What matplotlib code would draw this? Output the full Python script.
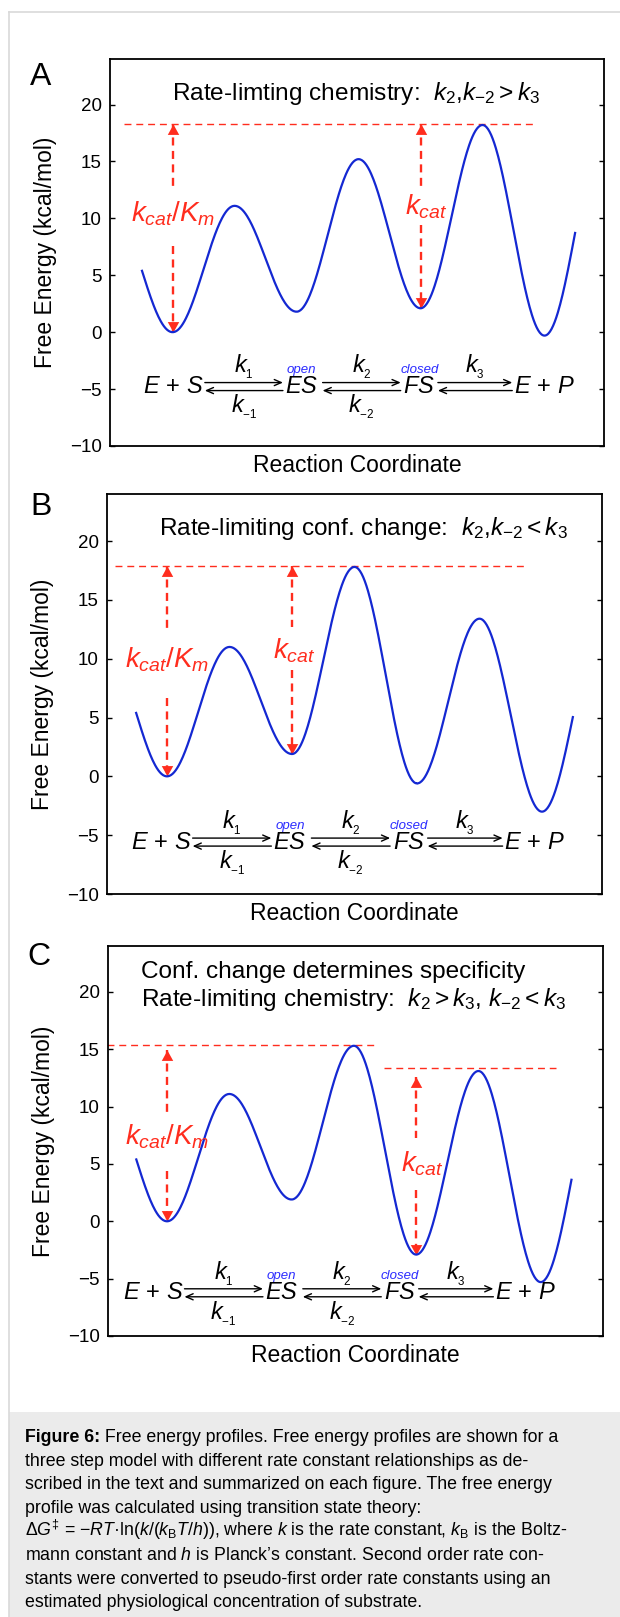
import numpy as np
import matplotlib
matplotlib.use("Agg")
import matplotlib.pyplot as plt
from matplotlib.lines import Line2D
from matplotlib.patches import Rectangle
from matplotlib.transforms import offset_copy

plt.rcParams['font.family'] = ['Liberation Sans', 'DejaVu Sans']
plt.rcParams['mathtext.fontset'] = 'custom'
plt.rcParams['mathtext.rm'] = 'Liberation Sans'
plt.rcParams['mathtext.it'] = 'Liberation Sans:italic'
plt.rcParams['mathtext.bf'] = 'Liberation Sans:bold'

W, H = 620, 1617
BLUE = '#1428d2'
RED = '#ff2d1e'

# free energy profile of each panel (kcal/mol)
panel_names = ['A', 'B', 'C']
well_x = [1, 2, 3, 4]
start_energy = [5.5, 5.5, 5.5]
well_energy = [[0.0, 1.8, 2.1, -0.3], [0.0, 1.9, -0.6, -3.0], [0.0, 1.9, -2.9, -5.3]]
barrier_energy = [[11.1, 15.2, 18.2], [11.0, 17.8, 13.4], [11.1, 15.3, 13.1]]
end_energy = [8.9, 5.2, 3.8]

titles = [
    [r"Rate-limting chemistry:  $k_2{,}k_{-2} > k_3$"],
    [r"Rate-limiting conf. change:  $k_2{,}k_{-2} < k_3$"],
    ["Conf. change determines specificity",
     r"Rate-limiting chemistry:  $k_2 > k_3{,}\ k_{-2} < k_3$"],
]

# red dashed reference levels and arrows
level_y = [[18.3], [17.9], [15.4, 13.4]]
level_x0 = [[0.61], [0.58], [0.52, 2.74]]
level_x1 = [[3.92], [3.86], [2.68, 4.12]]
arrow_x = [[1, 3], [1, 2], [1, 3]]
arrow_top = [[18.3, 18.3], [17.9, 17.9], [14.9, 12.6]]
arrow_bottom = [[0.0, 2.1], [0.0, 1.9], [0.0, -2.9]]
gap_hi = [[12.6, 12.6], [12.3, 12.7], [9.2, 7.3]]
gap_lo = [[7.6, 9.4], [6.7, 9.0], [4.4, 2.7]]
arrow_label = [[r"$k_{cat}/K_m$", r"$k_{cat}$"]] * 3
label_x = [[1.0, 3.05], [1.0, 2.02], [1.0, 3.05]]
label_y = [[10.4, 11.0], [9.9, 10.7], [7.4, 5.0]]

# kinetic scheme
species = [r"$E\,+\,S$", r"$ES$", r"$FS$", r"$E\,+\,P$"]
species_dx = [0.0, 1.03, 1.98, 2.99]
fwd_labels = [r"$k_{_1}$", r"$k_{_2}$", r"$k_{_3}$"]
rev_labels = [r"$k_{_{-1}}$", r"$k_{_{-2}}$", None]
arrow_x0 = [0.25, 1.20, 2.13]
arrow_x1 = [0.88, 1.83, 2.73]
state_tags = [None, "open", "closed", None]
scheme_x = [1.01, 0.955, 0.89]
scheme_base = [-5.35, -6.14, -6.8]

axes_px = [(110, 59, 604, 446), (107, 494, 602, 894), (108, 946, 603, 1336)]
xlims = [(0.495, 4.48), (0.52, 4.48), (0.526, 4.50)]
letter_px = [(41, 77), (41, 507), (39, 957)]


def profile(start, wells, barriers, end, n=80):
    ext_x = [well_x[0] - 0.5]
    ext_e = [2 * start - wells[0]]
    for i, w in enumerate(wells):
        ext_x.append(well_x[i])
        ext_e.append(w)
        if i < len(barriers):
            ext_x.append(well_x[i] + 0.5)
            ext_e.append(barriers[i])
    ext_x.append(well_x[-1] + 0.5)
    ext_e.append(2 * end - wells[-1])
    xs, es = [], []
    t = np.linspace(0, 1, n)
    for i in range(len(ext_x) - 1):
        xs.append(ext_x[i] + (ext_x[i + 1] - ext_x[i]) * t)
        es.append(ext_e[i] + (ext_e[i + 1] - ext_e[i]) * (1 - np.cos(np.pi * t)) / 2)
    x = np.concatenate(xs)
    e = np.concatenate(es)
    keep = (x >= well_x[0] - 0.25) & (x <= well_x[-1] + 0.25)
    return x[keep], e[keep]


up_head = [(0, 0), (-0.55, -1), (0.55, -1), (0, 0)]
down_head = [(0, 0), (-0.55, 1), (0.55, 1), (0, 0)]

fig = plt.figure(figsize=(W / 100, H / 100), dpi=100)

# page frame and caption box
fig.add_artist(Line2D([9 / W, 1], [1 - 12 / H, 1 - 12 / H], color='#d9d9d9', lw=1.2))
fig.add_artist(Line2D([9 / W, 9 / W], [1 - 12 / H, 0], color='#d9d9d9', lw=1.2))
fig.add_artist(Rectangle((9 / W, 0), 1, (H - 1412) / H, transform=fig.transFigure,
                         facecolor='#ebebeb', edgecolor='none'))

for p in range(3):
    l, t, r, b = axes_px[p]
    ax = fig.add_axes([l / W, 1 - b / H, (r - l) / W, (b - t) / H])
    x, e = profile(start_energy[p], well_energy[p], barrier_energy[p], end_energy[p])
    ax.plot(x, e, color=BLUE, lw=1.6, zorder=3)
    ax.set_xlim(*xlims[p])
    ax.set_ylim(-10, 24)
    ax.set_yticks([-10, -5, 0, 5, 10, 15, 20])
    ax.set_xticks([])
    ax.tick_params(axis='y', direction='in', length=3.5, width=1, labelsize=13.5,
                   right=True, pad=6)
    for s in ax.spines.values():
        s.set_linewidth(1.3)
    ax.set_ylabel("Free Energy (kcal/mol)", fontsize=16.5, labelpad=9)
    ax.set_xlabel("Reaction Coordinate", fontsize=16.5, labelpad=6)
    fig.text(letter_px[p][0] / W, 1 - letter_px[p][1] / H, panel_names[p], fontsize=23,
             ha='center', va='center')

    # titles
    if p < 2:
        ax.text([2.48, 2.57][p], [20.96, 21.1][p], titles[p][0], fontsize=17.6,
                ha='center', va='center')
    else:
        ax.text(0.79, 21.7, titles[p][0], fontsize=17.6, ha='left', va='center')
        ax.text(0.79, 19.3, titles[p][1], fontsize=17.6, ha='left', va='center')

    # reference levels
    for y, x0, x1 in zip(level_y[p], level_x0[p], level_x1[p]):
        ax.plot([x0, x1], [y, y], color=RED, lw=1.0, dashes=(5, 3.5))
    for i in range(len(arrow_x[p])):
        xa = arrow_x[p][i]
        ax.plot([xa, xa], [arrow_top[p][i], gap_hi[p][i]], color=RED, lw=1.7, dashes=(3.4, 2.3))
        ax.plot([xa, xa], [gap_lo[p][i], arrow_bottom[p][i]], color=RED, lw=1.7, dashes=(3.4, 2.3))
        ax.plot([xa], [arrow_top[p][i]], marker=up_head, ms=15, color=RED, mew=0)
        ax.plot([xa], [arrow_bottom[p][i]], marker=down_head, ms=15, color=RED, mew=0)
        ax.text(label_x[p][i], label_y[p][i], arrow_label[p][i], color=RED, fontsize=20,
                ha='center', va='center')

    # kinetic scheme
    x0 = scheme_x[p]
    yb = scheme_base[p]
    for s, dx, tag in zip(species, species_dx, state_tags):
        ax.text(x0 + dx, yb, s, fontsize=17, ha='center', va='baseline')
        if tag:
            tr = offset_copy(ax.transData, fig=fig, y=23, units='dots')
            ax.text(x0 + dx, yb, tag, fontsize=9.5, style='italic', color='#2b2bff',
                    ha='center', va='center', transform=tr)
    for i in range(3):
        a0 = x0 + arrow_x0[i]
        a1 = x0 + arrow_x1[i]
        tr_top = offset_copy(ax.transData, fig=fig, y=10.5, units='dots')
        tr_bot = offset_copy(ax.transData, fig=fig, y=2.5, units='dots')
        ax.annotate('', xy=(a1, yb), xytext=(a0, yb), xycoords=tr_top, textcoords=tr_top,
                    arrowprops=dict(arrowstyle='->,head_length=0.5,head_width=0.22',
                                    color='black', lw=1.0, shrinkA=0, shrinkB=0))
        ax.annotate('', xy=(a0, yb), xytext=(a1, yb), xycoords=tr_bot, textcoords=tr_bot,
                    arrowprops=dict(arrowstyle='->,head_length=0.5,head_width=0.22',
                                    color='black', lw=1.0, shrinkA=0, shrinkB=0))
        xc = (a0 + a1) / 2
        tr_k = offset_copy(ax.transData, fig=fig, y=26, units='dots')
        ax.text(xc, yb, fwd_labels[i], fontsize=17, ha='center', va='center', transform=tr_k)
        if rev_labels[i]:
            tr_k2 = offset_copy(ax.transData, fig=fig, y=-14, units='dots')
            ax.text(xc, yb, rev_labels[i], fontsize=17, ha='center', va='center',
                    transform=tr_k2)

# caption
cap_x = 24.6 / W
base0 = 1442
step = 23.6
cap_size = 12.8
cap_lines = [
    None,
    "three step model with different rate constant relationships as de-",
    "scribed in the text and summarized on each figure. The free energy",
    "profile was calculated using transition state theory:",
    r"Δ$G^{‡}$ = −$RT$·ln($k$/($k_\mathrm{B}T$/$h$)), where $k$ is the rate constant, $k_\mathrm{B}$ is the Boltz-",
    "mann constant and $h$ is Planck’s constant. Second order rate con-",
    "stants were converted to pseudo-first order rate constants using an",
    "estimated physiological concentration of substrate.",
]
t1 = fig.text(cap_x, 1 - base0 / H, "Figure 6:", fontsize=cap_size, fontweight='bold',
              va='baseline', ha='left')
fig.canvas.draw()
bb = t1.get_window_extent()
fig.text(bb.x1 / W, 1 - base0 / H, " Free energy profiles. Free energy profiles are shown for a",
         fontsize=cap_size, va='baseline', ha='left')
for i, line in enumerate(cap_lines):
    if line is None:
        continue
    fig.text(cap_x, 1 - (base0 + i * step) / H, line, fontsize=cap_size, va='baseline', ha='left')

fig.savefig("out.png", dpi=100)
